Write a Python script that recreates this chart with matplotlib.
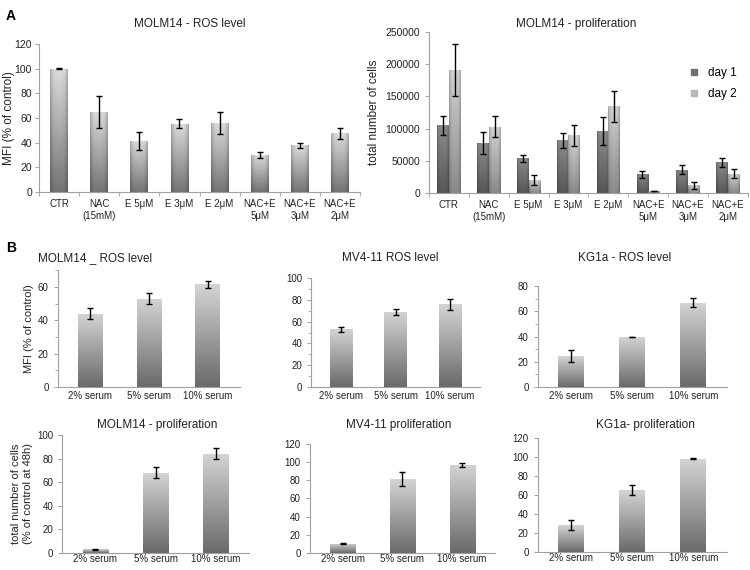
import numpy as np
import matplotlib
matplotlib.use("Agg")
import matplotlib.pyplot as plt
from matplotlib.colors import to_rgb
from matplotlib.lines import Line2D
from matplotlib.ticker import MultipleLocator

plt.rcParams['font.family'] = ['Liberation Sans', 'DejaVu Sans']

# panel A data
a_labels = ["CTR", "NAC\n(15mM)", "E 5\u03bcM", "E 3\u03bcM", "E 2\u03bcM",
            "NAC+E\n5\u03bcM", "NAC+E\n3\u03bcM", "NAC+E\n2\u03bcM"]
ros_a = [100, 65, 41.5, 55.5, 56, 30, 38, 47.5]
ros_a_err = [0.5, 13, 7.5, 4, 9, 2.5, 2, 4.5]
day1 = [105000, 78000, 54000, 82000, 96000, 29500, 36500, 48000]
day1_err = [14500, 16500, 5500, 11500, 21500, 5500, 6500, 6800]
day2 = [191000, 103000, 20000, 89500, 135000, 3500, 12000, 30000]
day2_err = [40000, 16500, 7500, 17000, 24000, 500, 5000, 7000]

# panel B data
serum = ["2% serum", "5% serum", "10% serum"]
ros_molm = [44, 53, 61.5]
ros_molm_err = [3.2, 3.3, 2.2]
ros_mv4 = [53, 69, 76]
ros_mv4_err = [2.4, 2.4, 4.8]
ros_kg1 = [24.5, 39.7, 66.8]
ros_kg1_err = [4.8, 0.3, 3.5]
pro_molm = [3, 68, 84]
pro_molm_err = [0.5, 4.7, 4.5]
pro_mv4 = [10, 81.5, 97]
pro_mv4_err = [0.5, 7.3, 2.4]
pro_kg1 = [28, 65, 98]
pro_kg1_err = [5.5, 5, 0.3]

SPINE = "#a0a0a0"
TXT = "#222222"


def shade_bars(ax, bars, top, bottom, cyl=0.0):
    t, b = np.array(to_rgb(top)), np.array(to_rgb(bottom))
    v = np.linspace(0, 1, 80)[:, None, None]
    u = np.linspace(-1, 1, 40)[None, :, None]
    img = b + (t - b) * v
    img = img * (1 - cyl * u ** 4)
    img = np.clip(img, 0, 1)
    for bar in bars:
        x, y = bar.get_x(), bar.get_y()
        w, h = bar.get_width(), bar.get_height()
        im = ax.imshow(img, extent=[x, x + w, y, y + h], origin="lower",
                       aspect="auto", zorder=1, interpolation="bilinear")
        im.set_clip_path(bar)


def style(ax):
    for s in ["top", "right"]:
        ax.spines[s].set_visible(False)
    for s in ["left", "bottom"]:
        ax.spines[s].set_color(SPINE)
        ax.spines[s].set_linewidth(0.8)
    ax.tick_params(colors=SPINE, labelcolor=TXT, length=3, width=0.7)


def serum_panel(rect, vals, errs, ymax, ylabel=None, minor=True, pad=3):
    ax = fig.add_axes(rect)
    x = np.arange(len(vals))
    bars = ax.bar(x, vals, 0.42, facecolor="none", edgecolor="none")
    shade_bars(ax, bars, "#d4d4d4", "#6a6a6a")
    ax.errorbar(x, vals, yerr=errs, fmt="none", ecolor="black",
                elinewidth=1, capsize=2, capthick=1, zorder=3)
    ax.set_xlim(-0.55, 2.55)
    ax.set_ylim(0, ymax)
    ax.yaxis.set_major_locator(MultipleLocator(20))
    if minor:
        ax.yaxis.set_minor_locator(MultipleLocator(10))
    ax.set_xticks(x)
    ax.set_xticklabels(serum, fontsize=7)
    style(ax)
    ax.tick_params(axis="x", length=0, pad=pad)
    ax.tick_params(axis="y", labelsize=7)
    ax.tick_params(axis="y", which="minor", length=2, color=SPINE)
    if ylabel:
        ax.set_ylabel(ylabel, fontsize=8, color=TXT, labelpad=3)
    return ax


fig = plt.figure(figsize=(7.5, 5.7), dpi=100)

# A1: ROS level
ax1 = fig.add_axes([0.052, 0.663, 0.428, 0.26])
x = np.arange(len(a_labels))
bars = ax1.bar(x, ros_a, 0.44, facecolor="none", edgecolor="none")
shade_bars(ax1, bars, "#dcdcdc", "#747474", cyl=0.25)
ax1.errorbar(x, ros_a, yerr=ros_a_err, fmt="none", ecolor="black",
             elinewidth=1, capsize=2, capthick=1, zorder=3)
ax1.set_xlim(-0.5, 7.5)
ax1.set_ylim(0, 120)
ax1.yaxis.set_major_locator(MultipleLocator(20))
ax1.set_xticks(x)
ax1.set_xticklabels(a_labels, fontsize=7)
ax1.set_xticks(np.arange(-0.5, 8, 1), minor=True)
style(ax1)
ax1.tick_params(axis="x", which="major", length=0, pad=5)
ax1.tick_params(axis="x", which="minor", length=3, color=SPINE)
ax1.tick_params(axis="y", labelsize=7.5, pad=2)
ax1.set_ylabel("MFI (% of control)", fontsize=8.5, color=TXT)
ax1.yaxis.set_label_coords(-0.075, 0.5)
fig.text(0.253, 0.958, "MOLM14 - ROS level", ha="center", va="center",
         fontsize=8.5, color=TXT)

# A2: proliferation
ax2 = fig.add_axes([0.572, 0.661, 0.425, 0.283])
w = 0.29
b1 = ax2.bar(x - w / 2, day1, w, facecolor="none", edgecolor="none")
b2 = ax2.bar(x + w / 2, day2, w, facecolor="none", edgecolor="none")
shade_bars(ax2, b1, "#8c8c8c", "#575757", cyl=0.25)
shade_bars(ax2, b2, "#d2d2d2", "#8a8a8a", cyl=0.25)
ax2.errorbar(x - w / 2, day1, yerr=day1_err, fmt="none", ecolor="black",
             elinewidth=1, capsize=2, capthick=1, zorder=3)
ax2.errorbar(x + w / 2, day2, yerr=day2_err, fmt="none", ecolor="black",
             elinewidth=1, capsize=2, capthick=1, zorder=3)
ax2.set_xlim(-0.5, 7.5)
ax2.set_ylim(0, 250000)
ax2.yaxis.set_major_locator(MultipleLocator(50000))
ax2.ticklabel_format(style="plain", axis="y")
ax2.set_xticks(x)
ax2.set_xticklabels(a_labels, fontsize=7)
ax2.set_xticks(np.arange(-0.5, 8, 1), minor=True)
style(ax2)
ax2.tick_params(axis="x", which="major", length=0, pad=5)
ax2.tick_params(axis="x", which="minor", length=3, color=SPINE)
ax2.tick_params(axis="y", labelsize=7.5)
ax2.set_ylabel("total number of cells", fontsize=8.5, color=TXT)
fig.text(0.768, 0.958, "MOLM14 - proliferation", ha="center", va="center",
         fontsize=8.5, color=TXT)
handles = [Line2D([], [], marker="s", ls="none", color="#707070", markersize=5),
           Line2D([], [], marker="s", ls="none", color="#b8b8b8", markersize=5)]
ax2.legend(handles, ["day 1", "day 2"], loc="upper right", frameon=False,
           fontsize=8.5, handletextpad=0.2, bbox_to_anchor=(1.0, 0.85),
           labelspacing=0.8)

# panel B
serum_panel([0.077, 0.321, 0.243, 0.205], ros_molm, ros_molm_err, 70,
            ylabel="MFI (% of control)")
serum_panel([0.415, 0.321, 0.225, 0.191], ros_mv4, ros_mv4_err, 100)
serum_panel([0.717, 0.321, 0.252, 0.177], ros_kg1, ros_kg1_err, 80)
serum_panel([0.083, 0.030, 0.249, 0.207], pro_molm, pro_molm_err, 100,
            ylabel="total number of cells\n(% of control at 48h)",
            minor=False, pad=1)
serum_panel([0.413, 0.030, 0.247, 0.191], pro_mv4, pro_mv4_err, 120,
            minor=False, pad=1)
serum_panel([0.717, 0.032, 0.252, 0.200], pro_kg1, pro_kg1_err, 120,
            minor=False, pad=1)

fig.text(0.127, 0.547, "MOLM14 _ ROS level", ha="center", va="center",
         fontsize=8.5, color=TXT)
fig.text(0.520, 0.547, "MV4-11 ROS level", ha="center", va="center",
         fontsize=8.5, color=TXT)
fig.text(0.833, 0.547, "KG1a - ROS level", ha="center", va="center",
         fontsize=8.5, color=TXT)
fig.text(0.209, 0.255, "MOLM14 - proliferation", ha="center", va="center",
         fontsize=8.5, color=TXT)
fig.text(0.531, 0.255, "MV4-11 proliferation", ha="center", va="center",
         fontsize=8.5, color=TXT)
fig.text(0.861, 0.255, "KG1a- proliferation", ha="center", va="center",
         fontsize=8.5, color=TXT)

fig.text(0.008, 0.985, "A", fontsize=10, fontweight="bold", va="top")
fig.text(0.008, 0.577, "B", fontsize=10, fontweight="bold", va="top")

fig.savefig("out.png", dpi=100, facecolor="white")
